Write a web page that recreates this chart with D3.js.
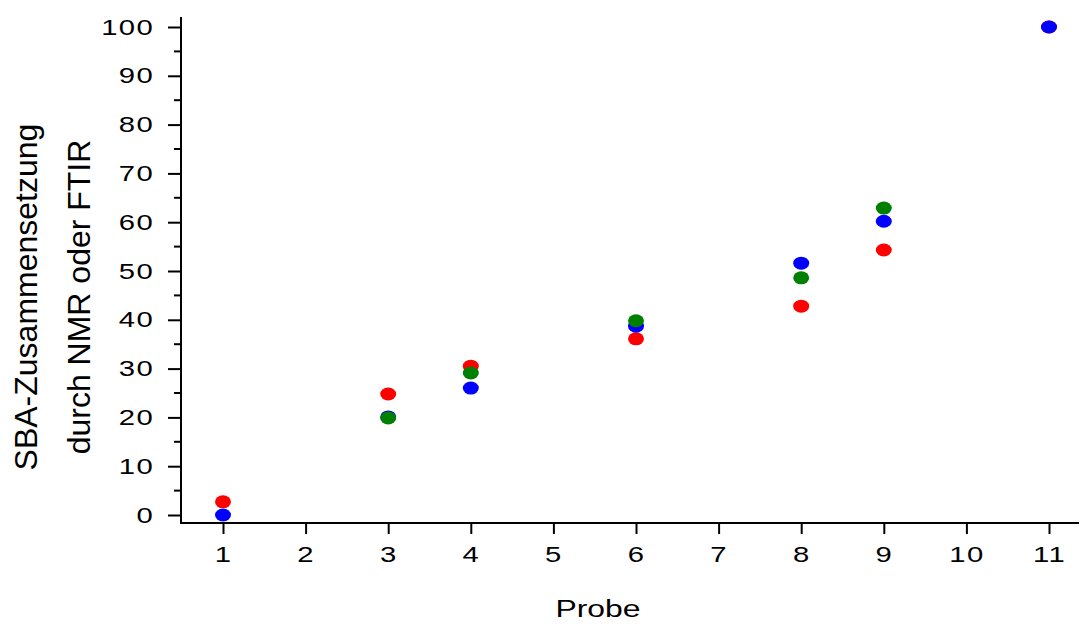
<!DOCTYPE html>
<html lang="de">
<head>
<meta charset="utf-8">
<style>
  body { margin: 0; background: #fff; }
  svg { font-family: "Liberation Sans", Arial, sans-serif; }
  .tick text { font-size: 22px; letter-spacing: 1px; fill: #000; }
  .domain, .tick line { stroke: #000; stroke-width: 2; }
</style>
</head>
<body>
<script src="https://cdn.jsdelivr.net/npm/d3@7"></script>
<script>
// Probe-Nummern und Werte je Messmethode
var probes = [1, 3, 4, 6, 8, 9, 11];
var redValues   = [2.7, 24.8, 30.5, 36.1, 42.8, 54.3, 100];
var blueValues  = [0, 20.1, 26.0, 38.7, 51.6, 60.2, 100];
var greenValues = [null, 19.9, 29.1, 39.8, 48.6, 62.9, null];
var xTicks = [1, 2, 3, 4, 5, 6, 7, 8, 9, 10, 11];
var yTicks = [0, 10, 20, 30, 40, 50, 60, 70, 80, 90, 100];

var series = [
  {color: "#ff0000", values: redValues},
  {color: "#0000ff", values: blueValues},
  {color: "#008000", values: greenValues}
];

var width = 1080, height = 626;
var stretch = 1.33; // waagrechte Schrift ist im Original breit gezogen

var svg = d3.select("body").append("svg")
  .attr("width", width)
  .attr("height", height);

var x = d3.scaleLinear().domain([1, 11]).range([223, 1049]);
var y = d3.scaleLinear().domain([0, 100]).range([515, 27]);

// y-Achse
var yAxis = svg.append("g")
  .attr("transform", "translate(181,0)")
  .call(d3.axisLeft(y).tickValues(yTicks).tickSize(13).tickSizeOuter(0));
yAxis.select(".domain").attr("d", "M0,17V524");
yAxis.selectAll(".tick text")
  .attr("x", -27 / stretch)
  .attr("transform", "scale(" + stretch + ",1)");

// Zwischenstriche
svg.append("g")
  .attr("transform", "translate(181,0)")
  .selectAll("line")
  .data(d3.range(5, 100, 10))
  .enter().append("line")
  .attr("x1", -7).attr("x2", 0)
  .attr("y1", function(d) { return y(d); })
  .attr("y2", function(d) { return y(d); })
  .attr("stroke", "#000").attr("stroke-width", 2);

// x-Achse
var xAxis = svg.append("g")
  .attr("transform", "translate(0,523)")
  .call(d3.axisBottom(x).tickValues(xTicks).tickSize(11).tickSizeOuter(0));
xAxis.select(".domain").attr("d", "M180,0H1079");
xAxis.selectAll(".tick text")
  .attr("y", 39)
  .attr("dy", 0)
  .attr("transform", "scale(" + stretch + ",1)");

// Punkte
series.forEach(function(s) {
  svg.append("g")
    .selectAll("ellipse")
    .data(probes.map(function(p, i) { return {p: p, v: s.values[i]}; })
      .filter(function(d) { return d.v != null; }))
    .enter().append("ellipse")
    .attr("cx", function(d) { return x(d.p); })
    .attr("cy", function(d) { return y(d.v); })
    .attr("rx", 8)
    .attr("ry", 6.5)
    .attr("fill", s.color);
});

// Achsentitel
svg.append("text")
  .attr("transform", "translate(598,617) scale(" + stretch + ",1)")
  .attr("text-anchor", "middle")
  .attr("font-size", 24)
  .text("Probe");

svg.append("text")
  .attr("transform", "translate(37,297) rotate(-90)")
  .attr("text-anchor", "middle")
  .attr("font-size", 32)
  .text("SBA-Zusammensetzung");

svg.append("text")
  .attr("transform", "translate(90,297) rotate(-90)")
  .attr("text-anchor", "middle")
  .attr("font-size", 32)
  .text("durch NMR oder FTIR");
</script>
</body>
</html>
